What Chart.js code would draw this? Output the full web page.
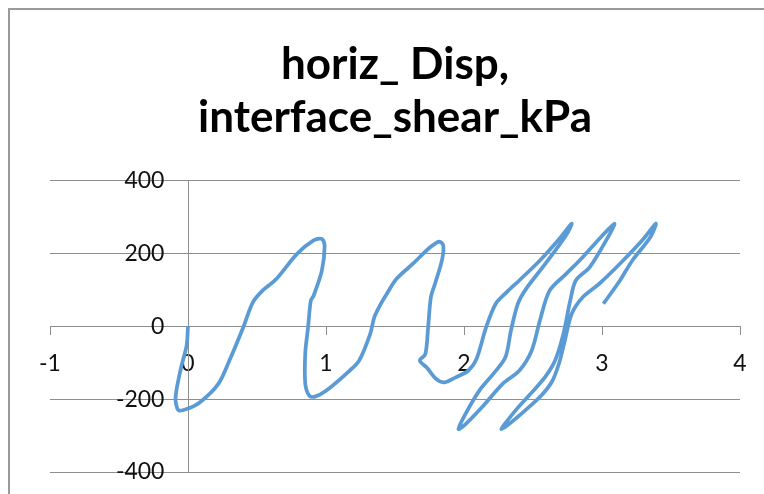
<!DOCTYPE html>
<html>
<head>
<meta charset="utf-8">
<script src="https://cdn.jsdelivr.net/npm/chart.js@4"></script>
<style>
  html, body { margin: 0; padding: 0; background: #fff; overflow: hidden; }
  #wrap { width: 788px; height: 494px; }
</style>
</head>
<body>
<div id="wrap"><canvas id="shearChart" width="788" height="494"></canvas></div>
<script>
const titleLines = ['horiz_ Disp,', 'interface_shear_kPa'];
const xTicks = [-1, 0, 1, 2, 3, 4];
const yTicks = [-400, -200, 0, 200, 400];

// horizontal displacement
const horizDisp = [
  0, -0.01, -0.05, -0.09, -0.07, -0.01, 0.085, 0.22, 0.30, 0.40, 0.47, 0.54, 0.64, 0.79, 0.91, 0.97, 0.99,
  0.97, 0.91, 0.89, 0.87, 0.85, 0.85, 0.88, 0.92, 1.0, 1.17, 1.24, 1.32, 1.35, 1.39,
  1.44, 1.51, 1.63, 1.75, 1.82, 1.85, 1.84, 1.79, 1.76, 1.74, 1.72, 1.68, 1.73, 1.80, 1.86, 1.94, 2.03,
  2.09, 2.16, 2.23, 2.31, 2.40, 2.55, 2.69, 2.78,
  2.74, 2.59, 2.45, 2.39, 2.34, 2.30, 2.22, 2.11, 2.01, 1.96,
  2.01, 2.14, 2.28, 2.40, 2.49, 2.55, 2.62, 2.74, 2.86, 2.98, 3.09,
  3.03, 2.91, 2.81, 2.77, 2.72, 2.66, 2.59, 2.49, 2.38, 2.30, 2.27,
  2.31, 2.44, 2.56, 2.64, 2.69, 2.73, 2.78, 2.86, 2.98, 3.13, 3.30, 3.39,
  3.35, 3.22, 3.13, 3.01
];
// interface shear, kPa
const shearKPa = [
  0, -53, -113, -195, -230, -227, -209, -158, -94, -3, 66, 98, 130, 199, 236, 240, 222,
  153, 84, 71, -3, -72, -158, -191, -193, -177, -122, -94, -21, 25, 57,
  89, 130, 172, 216, 233, 222, 181, 117, 80, -3, -76, -94, -113, -145, -154, -140, -122,
  -90, -3, 62, 94, 126, 181, 240, 282,
  250, 172, 103, 62, -12, -85, -127, -177, -241, -282,
  -269, -218, -158, -122, -67, 16, 98, 144, 190, 240, 282,
  236, 162, 126, 71, -21, -94, -138, -182, -228, -266, -282,
  -273, -232, -190, -150, -100, -40, 34, 80, 117, 172, 240, 282,
  245, 181, 126, 62
];

const frame = {
  id: 'frame',
  beforeDraw(chart) {
    const c = chart.ctx;
    c.save();
    c.strokeStyle = '#9a9a9a';
    c.lineWidth = 2;
    c.strokeRect(9, 9, chart.width, chart.height);
    c.restore();
  }
};

const gridGrey = '#8e8e8e';
const tickFont = { family: 'Lato', size: 23 };

// centred axes: don't let label overhang push the plot area around
const noOverhang = s => { s.paddingTop = 0; s.paddingBottom = 0; s.paddingLeft = 0; s.paddingRight = 0; };

new Chart(document.getElementById('shearChart'), {
  type: 'scatter',
  data: {
    datasets: [{
      label: 'interface_shear_kPa',
      data: horizDisp.map((x, i) => ({ x: x, y: shearKPa[i] })),
      showLine: true,
      borderColor: '#5b9bd5',
      borderWidth: 3.75,
      pointRadius: 0,
      tension: 0.3,
      fill: false
    }]
  },
  options: {
    responsive: false,
    animation: false,
    layout: { padding: { left: 50, right: 48, top: 0, bottom: 22 } },
    scales: {
      x: {
        type: 'linear',
        position: { y: 0 },
        min: xTicks[0],
        max: xTicks[xTicks.length - 1],
        afterBuildTicks: s => { s.ticks = xTicks.map(v => ({ value: v })); },
        afterFit: noOverhang,
        border: { color: gridGrey, width: 1 },
        grid: { drawOnChartArea: false, drawTicks: true, tickLength: 8, color: gridGrey },
        ticks: { font: tickFont, color: '#111', padding: 15, maxRotation: 0 }
      },
      y: {
        type: 'linear',
        position: { x: 0 },
        min: yTicks[0],
        max: yTicks[yTicks.length - 1],
        afterBuildTicks: s => { s.ticks = yTicks.map(v => ({ value: v })); },
        afterFit: noOverhang,
        border: { color: gridGrey, width: 1 },
        grid: { color: gridGrey, drawTicks: false },
        // labels sit right against a centred axis, so pad them with spaces
        ticks: { font: tickFont, color: '#111', callback: v => v + '    ' }
      }
    },
    plugins: {
      legend: { display: false },
      tooltip: { enabled: false },
      title: {
        display: true,
        text: titleLines,
        color: '#000',
        font: { family: 'Lato', size: 44, weight: 'bold', lineHeight: 1.19 },
        padding: { top: 39, bottom: 37 }
      }
    }
  },
  plugins: [frame]
});
</script>
</body>
</html>
